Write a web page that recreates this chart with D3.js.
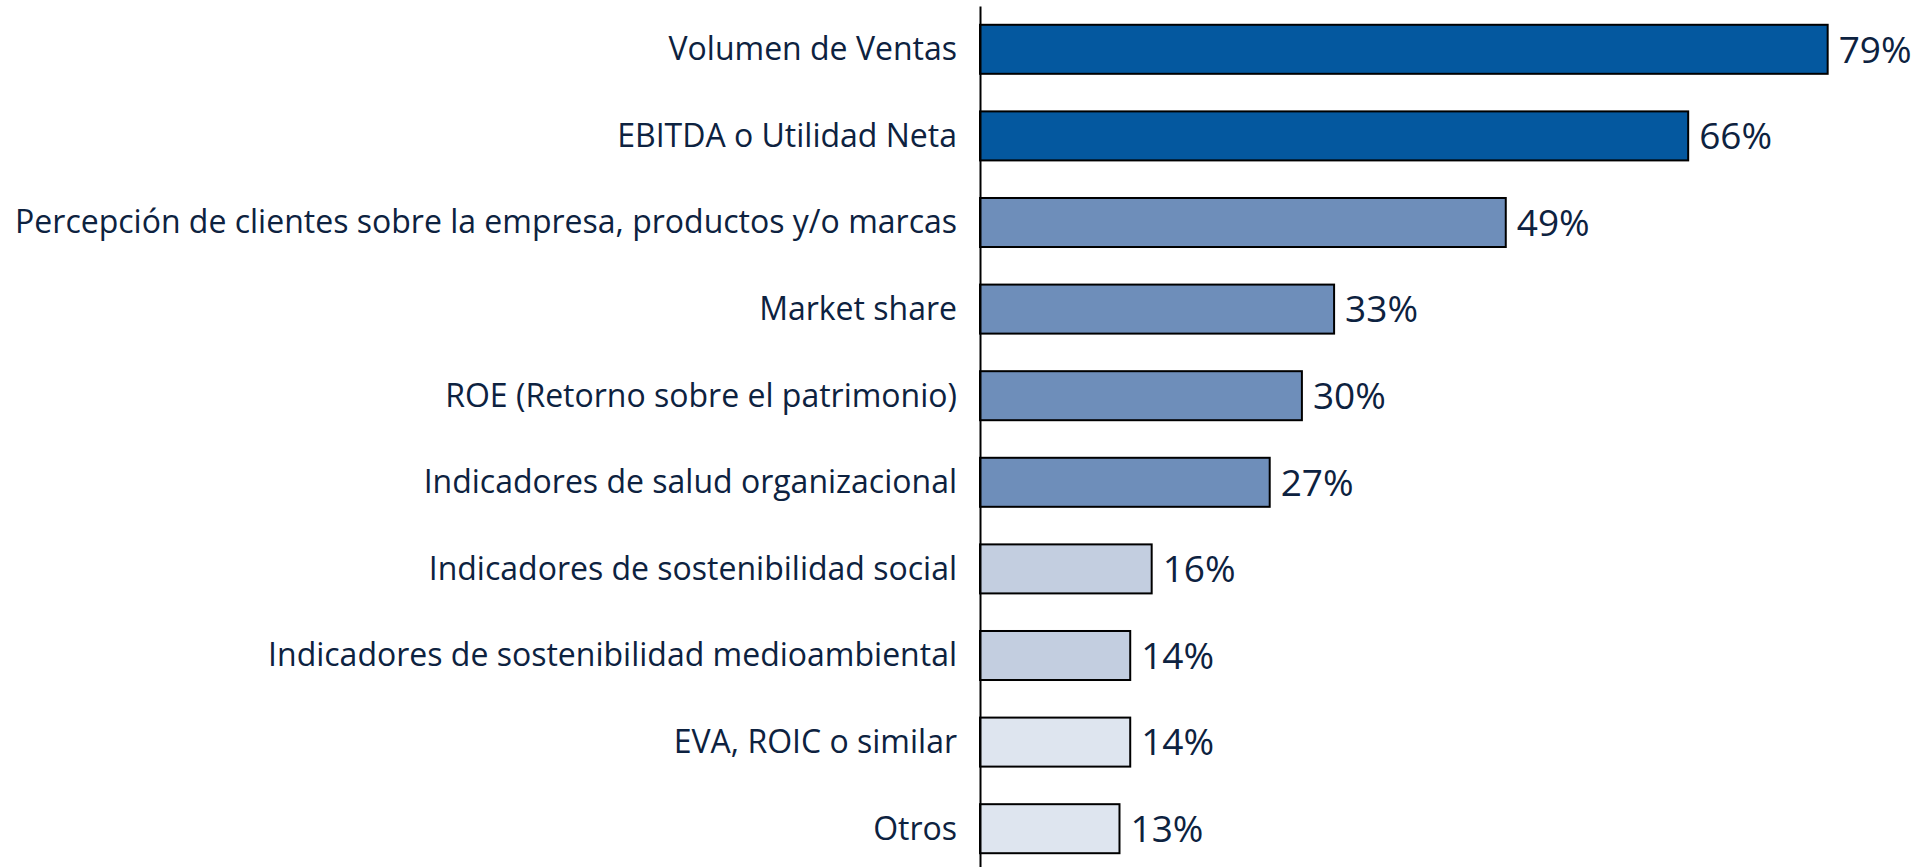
<!DOCTYPE html>
<html>
<head>
<meta charset="utf-8">
<script src="https://cdn.jsdelivr.net/npm/d3@7"></script>
<style>
  body { margin: 0; background: #fff; }
  text { font-family: "Open Sans", sans-serif; fill: #0d2240; }
</style>
</head>
<body>
<svg id="chart"></svg>
<script>
const categories = [
  "Volumen de Ventas",
  "EBITDA o Utilidad Neta",
  "Percepción de clientes sobre la empresa, productos y/o marcas",
  "Market share",
  "ROE (Retorno sobre el patrimonio)",
  "Indicadores de salud organizacional",
  "Indicadores de sostenibilidad social",
  "Indicadores de sostenibilidad medioambiental",
  "EVA, ROIC o similar",
  "Otros"
];
const values = [79, 66, 49, 33, 30, 27, 16, 14, 14, 13];

// one fill per bar, same order as categories
const barColors = [
  "#04589f", "#04589f",
  "#6e8eba", "#6e8eba", "#6e8eba", "#6e8eba",
  "#c3cee0", "#c3cee0",
  "#dee5ef", "#dee5ef"
];

const data = categories.map((c, i) => ({ cat: c, val: values[i], color: barColors[i] }));

const svgWidth = 1921;
const svgHeight = 867;
const axisX = 980;

const svg = d3.select("#chart")
  .attr("width", svgWidth)
  .attr("height", svgHeight);

const x = d3.scaleLinear()
  .domain([0, 100])
  .range([axisX, axisX + 1073]);

const y = d3.scaleBand()
  .domain(categories)
  .range([6, 872])
  .paddingInner(0.434)
  .paddingOuter(0.217);

svg.selectAll(".bar")
  .data(data)
  .enter()
  .append("rect")
  .attr("class", "bar")
  .attr("x", x(0))
  .attr("y", d => y(d.cat))
  .attr("width", d => x(d.val) - x(0))
  .attr("height", y.bandwidth())
  .attr("fill", d => d.color)
  .attr("stroke", "#000")
  .attr("stroke-width", 2);

svg.selectAll(".val")
  .data(data)
  .enter()
  .append("text")
  .attr("class", "val")
  .attr("x", d => x(d.val) + 11)
  .attr("y", d => y(d.cat) + y.bandwidth() / 2)
  .attr("dy", "0.36em")
  .attr("font-size", "37px")
  .text(d => d.val + "%");

const yAxis = svg.append("g")
  .attr("transform", `translate(${axisX},0)`)
  .call(d3.axisLeft(y).tickSize(0).tickPadding(23));

yAxis.select(".domain")
  .attr("stroke", "#000")
  .attr("stroke-width", 2);

yAxis.selectAll("text")
  .attr("font-size", "32px")
  .attr("font-family", "Open Sans, sans-serif")
  .attr("fill", "#0d2240")
  .attr("dy", "0.34em");
</script>
</body>
</html>
